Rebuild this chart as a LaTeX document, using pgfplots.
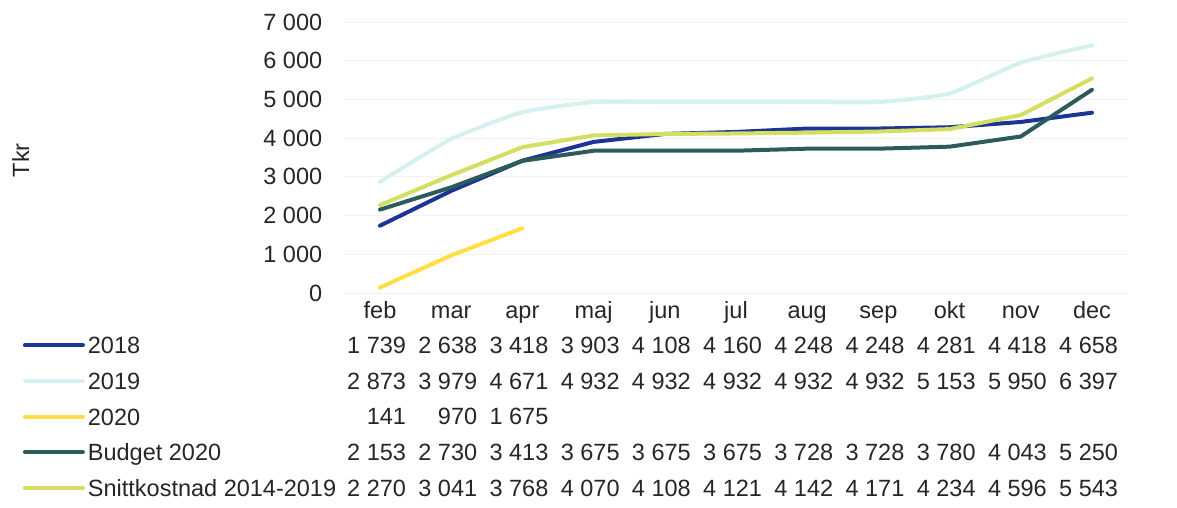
\documentclass[border=0pt]{standalone}
\usepackage{fontspec}
\setmainfont{Liberation Sans}
\usepackage{pgfplots}
\usepackage{pgfplotstable}
\pgfplotsset{compat=1.18}

\definecolor{c2018}{RGB}{28,52,150}
\definecolor{c2019}{RGB}{214,240,240}
\definecolor{c2020}{RGB}{255,222,70}
\definecolor{cbud}{RGB}{44,92,90}
\definecolor{csnitt}{RGB}{212,222,96}

% kostnad per manad, Tkr
\pgfplotstableread{
x  m    v2018 v2019 v2020 vbud vsnitt
0  feb  1739  2873  141   2153 2270
1  mar  2638  3979  970   2730 3041
2  apr  3418  4671  1675  3413 3768
3  maj  3903  4932  nan   3675 4070
4  jun  4108  4932  nan   3675 4108
5  jul  4160  4932  nan   3675 4121
6  aug  4248  4932  nan   3728 4142
7  sep  4248  4932  nan   3728 4171
8  okt  4281  5153  nan   3780 4234
9  nov  4418  5950  nan   4043 4596
10 dec  4658  6397  nan   5250 5543
}\data

\pgfplotsset{
  tabrow/.style={draw=none, forget plot, nodes near coords, point meta=explicit,
    every node near coord/.style={anchor=base east, inner sep=0pt, xshift=28bp,
      yshift=#1, text=black!85}},
}

\begin{document}
\begin{tikzpicture}[font=\fontsize{23.5bp}{28bp}\selectfont]
\path[use as bounding box] (0,0) rectangle (1177bp,508bp);
\begin{axis}[
    at={(344.4bp,215bp)}, anchor=south west,
    scale only axis, width=783.2bp, height=271bp,
    xmin=-0.5, xmax=10.5, ymin=0, ymax=7000,
    xtick={0,...,10},
    xticklabels={feb,mar,apr,maj,jun,jul,aug,sep,okt,nov,dec},
    ytick={0,1000,...,7000},
    scaled y ticks=false,
    /pgf/number format/.cd, 1000 sep={\ }, assume math mode=true, /pgfplots/.cd,
    axis line style={draw=none},
    major tick length=0pt,
    ymajorgrids, major grid style={black!5, line width=1bp},
    yticklabel style={anchor=east, inner sep=0pt, xshift=-22bp, text=black!85},
    xticklabel style={anchor=base, inner sep=0pt, yshift=-25bp, text=black!85},
    ylabel={Tkr}, ylabel style={at={(axis description cs:-0.4133,0.49)}, anchor=center, rotate=0, text=black!85},
    clip=false,
    every axis plot/.append style={line width=4bp, line join=round, line cap=round},
    legend cell align=left,
    legend image code/.code={\draw[#1] (0bp,0bp) -- (58bp,0bp);},
    legend style={at={(axis description cs:-0.4107,-0.1605)}, anchor=north west,
      draw=none, fill=none, inner sep=0pt, row sep=18.7bp, column sep=3bp,
      nodes={inner sep=0pt, text height=17bp, text depth=0bp, text=black!85}},
]
\addplot[c2018] table[x=x, y=v2018] {\data};
\addlegendentry{2018}
\addplot[c2019, smooth, tension=0.3] table[x=x, y=v2019] {\data};
\addlegendentry{2019}
\addplot[c2020, skip coords between index={3}{11}] table[x=x, y=v2020] {\data};
\addlegendentry{2020}
\addplot[cbud] table[x=x, y=vbud] {\data};
\addlegendentry{Budget 2020}
\addplot[csnitt] table[x=x, y=vsnitt] {\data};
\addlegendentry{Snittkostnad 2014-2019}

\addplot[tabrow=-60.5bp] table[x=x, y expr=0, meta=v2018] {\data};
\addplot[tabrow=-96.5bp] table[x=x, y expr=0, meta=v2019] {\data};
\addplot[tabrow=-131.5bp, skip coords between index={3}{11}] table[x=x, y expr=0, meta=v2020] {\data};
\addplot[tabrow=-167.5bp] table[x=x, y expr=0, meta=vbud] {\data};
\addplot[tabrow=-203.5bp] table[x=x, y expr=0, meta=vsnitt] {\data};
\end{axis}
\end{tikzpicture}
\end{document}
